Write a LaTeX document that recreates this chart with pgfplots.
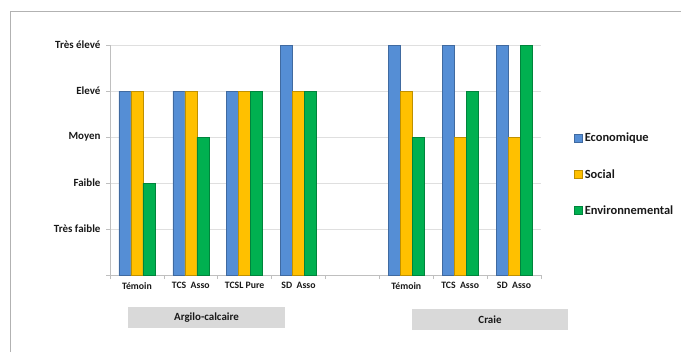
\documentclass[border=0pt]{standalone}
\usepackage{pgfplots}
\pgfplotsset{compat=1.18}
\usepackage{fontspec}
\setmainfont{Carlito}
\definecolor{eco}{RGB}{85,142,213}
\definecolor{soc}{RGB}{255,192,0}
\definecolor{env}{RGB}{0,176,80}
\begin{document}
\begin{tikzpicture}[x=1bp,y=1bp]
\path[use as bounding box] (0,0) rectangle (681,352);
\draw[gray!60, line width=0.8bp] (10,0) -- (10,341) -- (681,341);
\begin{axis}[at={(110bp,77bp)}, anchor=south west, scale only axis,
  width=431bp, height=230bp,
  ybar=0pt, bar width=12bp,
  xmin=-0.5, xmax=7.5, ymin=0, ymax=5,
  axis x line*=bottom, axis y line*=left,
  axis line style={gray!50, line width=0.6bp},
  xtick={-0.5,0.5,...,7.5},
  xticklabels={Témoin, TCS\ \ Asso, TCSL Pure, SD\ \ Asso, {}, Témoin, TCS\ \ Asso, SD\ \ Asso, {}},
  xticklabel style={xshift=26.9bp, font=\bfseries\fontsize{9.8}{11}\selectfont, text=black!90},
  ytick={0,1,2,3,4,5},
  yticklabels={{}, Très faible, Faible, Moyen, Elevé, Très élevé},
  yticklabel style={font=\bfseries\fontsize{11}{13}\selectfont, text=black!90, xshift=-2bp},
  tick align=outside, major tick length=4bp,
  tick style={gray!50, line width=0.6bp},
  ymajorgrids, grid style={gray!25, line width=0.6bp},
  legend style={draw=none, at={(1.07,0.635)}, anchor=north west,
    font=\bfseries\fontsize{12.5}{14}\selectfont, row sep=22bp, text=black!90},
  legend cell align=left,
  legend image code/.code={\draw[#1] (0bp,-4bp) rectangle (8bp,4bp);},
]
\addplot[fill=eco, draw=eco!75!black, line width=0.4bp] coordinates {(0,4)(1,4)(2,4)(3,5)(5,5)(6,5)(7,5)};
\addplot[fill=soc, draw=soc!75!black, line width=0.4bp] coordinates {(0,4)(1,4)(2,4)(3,4)(5,4)(6,3)(7,3)};
\addplot[fill=env, draw=env!75!black, line width=0.4bp] coordinates {(0,2)(1,3)(2,4)(3,4)(5,3)(6,4)(7,5)};
\legend{Economique, Social, Environnemental}
\end{axis}
\node[fill=gray!30, minimum width=157bp, minimum height=21bp, inner sep=0pt,
  font=\bfseries\fontsize{11}{13}\selectfont, text=black!90] at (206.5,34.5) {Argilo-calcaire};
\node[fill=gray!30, minimum width=156bp, minimum height=21bp, inner sep=0pt,
  font=\bfseries\fontsize{11}{13}\selectfont, text=black!90] at (490,32.5) {Craie};
\end{tikzpicture}
\end{document}
